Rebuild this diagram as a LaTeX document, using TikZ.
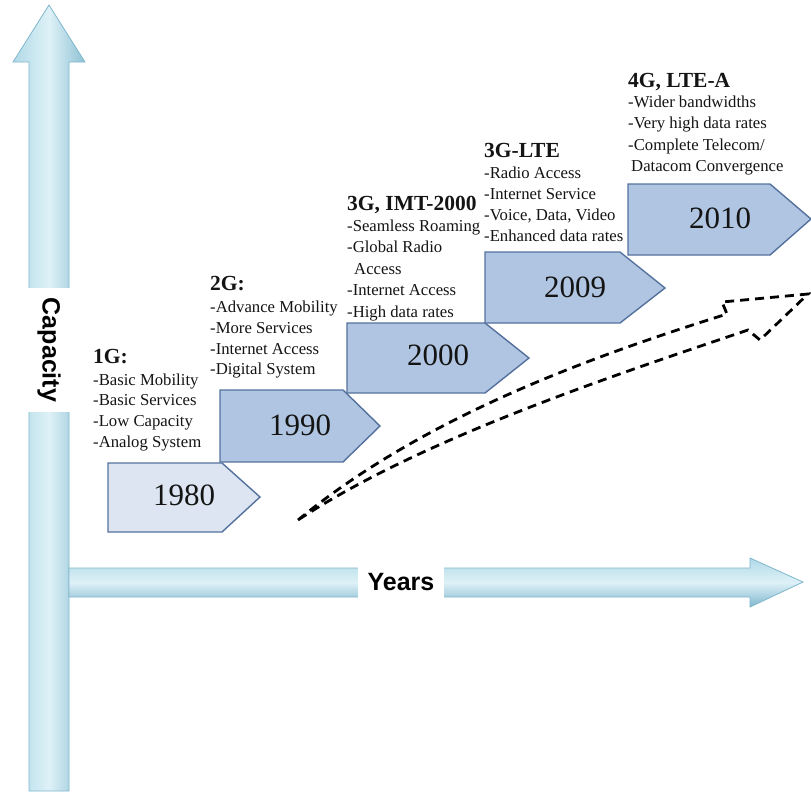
\documentclass[tikz,border=0pt]{standalone}
\usepackage{fontspec}
\setmainfont{Liberation Serif}
\newfontfamily\axisfont{Liberation Sans}

\definecolor{boxlight}{RGB}{220,229,241}
\definecolor{boxmid}{RGB}{176,197,225}
\definecolor{boxedge}{RGB}{84,113,158}
\definecolor{axlight}{RGB}{222,241,247}
\definecolor{axmid}{RGB}{176,217,231}
\definecolor{axdark}{RGB}{128,183,205}
\definecolor{inktext}{RGB}{20,20,20}

\tikzset{
  axisarrow/.style={draw=axdark, line width=0.8pt},
  axislabel/.style={font=\axisfont\bfseries\fontsize{25}{25}\selectfont, fill=white,
    inner xsep=10pt, inner ysep=0pt, text=black},
  era/.style={draw=boxedge, line width=1.4pt, line join=miter},
  yearlabel/.style={font=\fontsize{31}{31}\selectfont, text=inktext, inner sep=0pt},
  gentitle/.style={font=\bfseries\fontsize{21.5}{21.5}\selectfont, anchor=base west,
    inner sep=0pt, text=inktext},
  item/.style={font=\fontsize{16.7}{16.7}\selectfont, anchor=base west,
    inner sep=0pt, text=inktext},
  trend/.style={draw=black, line width=2.8pt, dash pattern=on 9pt off 6pt,
    line join=miter},
}

\begin{document}
\begin{tikzpicture}[x=1pt,y=-1pt]
\useasboundingbox (0,0) rectangle (811,793);

% capacity axis
\path[axisarrow, left color=axmid, right color=axdark!70!axmid, middle color=axlight]
  (29,791) -- (29,62) -- (13,62) -- (49,5) -- (85,62) -- (69,62) -- (69,791) -- cycle;
% years axis
\path[axisarrow, top color=axmid, bottom color=axdark, middle color=axlight]
  (69,568) -- (750,568) -- (750,558) -- (803,582) -- (750,607) -- (750,597)
  -- (69,597) -- cycle;
\node[axislabel, rotate=-90, minimum height=46pt] (capacity) at (49,350) {Capacity};
\node[axislabel, minimum height=38pt] (years) at (401,582) {Years};

% generation blocks
\draw[era, fill=boxlight] (108,463) -- (222,463) -- (260,497) -- (222,532) -- (108,532) -- cycle;
\node[yearlabel] (y1980) at (184,495) {1980};
\draw[era, fill=boxmid] (220,390) -- (343,390) -- (380,426) -- (343,462) -- (220,462) -- cycle;
\node[yearlabel] (y1990) at (300,425) {1990};
\draw[era, fill=boxmid] (347,323) -- (485,323) -- (529,358) -- (485,393) -- (347,393) -- cycle;
\node[yearlabel] (y2000) at (438,355) {2000};
\draw[era, fill=boxmid] (485,252) -- (620,252) -- (665,288) -- (620,323) -- (485,323) -- cycle;
\node[yearlabel] (y2009) at (575,287) {2009};
\draw[era, fill=boxmid] (628,184) -- (770,184) -- (811,219) -- (770,255) -- (628,255) -- cycle;
\node[yearlabel] (y2010) at (720,218) {2010};

% feature lists
\node[gentitle] (g1) at (93,363) {1G:};
\foreach \txt [count=\i] in {-Basic Mobility,-Basic Services,-Low Capacity,-Analog System}
  \node[item] (g1-\i) at (93,{385+20.7*(\i-1)}) {\txt};

\node[gentitle] (g2) at (210,290) {2G:};
\foreach \txt [count=\i] in {-Advance Mobility,-More Services,-Internet Access,-Digital System}
  \node[item] (g2-\i) at (210,{312.5+20.8*(\i-1)}) {\txt};

\node[gentitle] (g3) at (347,210) {3G, IMT-2000};
\foreach \txt [count=\i] in {-Seamless Roaming,-Global Radio,\hspace{7pt}Access,-Internet Access,-High data rates}
  \node[item] (g3-\i) at (347,{231+21.5*(\i-1)}) {\txt};

\node[gentitle] (g35) at (484,157) {3G-LTE};
\foreach \txt [count=\i] in {-Radio Access,-Internet Service,{-Voice, Data, Video},-Enhanced data rates}
  \node[item] (g35-\i) at (484,{178+21*(\i-1)}) {\txt};

\node[gentitle] (g4) at (628,87) {4G, LTE-A};
\foreach \txt [count=\i] in {-Wider bandwidths,-Very high data rates,-Complete Telecom/,\hspace{3pt}Datacom Convergence}
  \node[item] (g4-\i) at (628,{107+21.5*(\i-1)}) {\txt};

% dashed growth arrow
\coordinate (tail) at (298,520);
\coordinate (tip) at (808,294);
\draw[trend] (tail) .. controls (420,420) and (580,360) .. (727,314) -- (722,302)
  -- (tip) -- (760,340) -- (748,330) .. controls (600,380) and (420,440) .. (tail);
\end{tikzpicture}
\end{document}
